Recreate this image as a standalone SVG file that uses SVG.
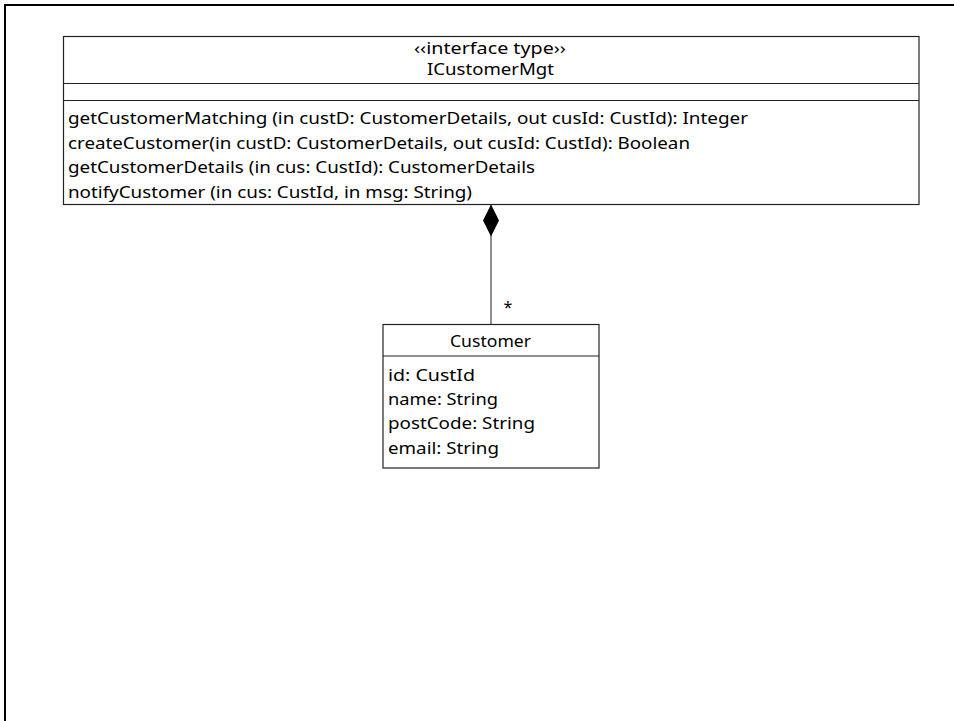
<svg xmlns="http://www.w3.org/2000/svg" width="954" height="721" viewBox="0 0 954 721">
  <style>
    .frame { fill: none; stroke: #000; stroke-width: 2; }
    .box { fill: #fff; stroke: #222; stroke-width: 1.2; }
    .sep { stroke: #222; stroke-width: 1.2; }
    .conn { stroke: #444; stroke-width: 1.2; fill: none; }
    text { font-family: "Comic Sans MS", "Noto Sans", "DejaVu Sans", sans-serif; font-size: 16px; fill: #000; }
    .mid { text-anchor: middle; }
  </style>
  <defs>
    <marker id="composition" viewBox="0 0 32 16" refX="0" refY="8" markerWidth="32" markerHeight="16" markerUnits="userSpaceOnUse" orient="auto">
      <path d="M0,8 L16,0 L32,8 L16,16 Z" fill="#000"/>
    </marker>
  </defs>
  <rect width="954" height="721" fill="#fff"/>
  <!-- page frame -->
  <path class="frame" d="M5,721 L5,5 L954,5"/>

  <!-- connectors -->
  <g id="connectors">
    <line class="conn" x1="491" y1="204.5" x2="491" y2="324" marker-start="url(#composition)"/>
    <text x="508" y="313" class="mid">*</text>
  </g>

  <!-- interface ICustomerMgt -->
  <g id="ICustomerMgt">
    <rect class="box" x="63.5" y="36.5" width="855.5" height="168"/>
    <line class="sep" x1="63.5" y1="83.5" x2="919" y2="83.5"/>
    <line class="sep" x1="63.5" y1="100.5" x2="919" y2="100.5"/>
    <text x="414" y="54" textLength="152" lengthAdjust="spacingAndGlyphs">‹‹interface type››</text>
    <text x="427" y="75" textLength="127" lengthAdjust="spacingAndGlyphs">ICustomerMgt</text>
    <text x="68" y="124" textLength="680" lengthAdjust="spacingAndGlyphs">getCustomerMatching (in custD: CustomerDetails, out cusId: CustId): Integer</text>
    <text x="68" y="149" textLength="622" lengthAdjust="spacingAndGlyphs">createCustomer(in custD: CustomerDetails, out cusId: CustId): Boolean</text>
    <text x="68" y="173" textLength="467" lengthAdjust="spacingAndGlyphs">getCustomerDetails (in cus: CustId): CustomerDetails</text>
    <text x="68" y="198" textLength="404" lengthAdjust="spacingAndGlyphs">notifyCustomer (in cus: CustId, in msg: String)</text>
  </g>

  <!-- class Customer -->
  <g id="Customer">
    <rect class="box" x="383" y="324.5" width="216" height="143.5"/>
    <line class="sep" x1="383" y1="356" x2="599" y2="356"/>
    <text x="450" y="347" textLength="81" lengthAdjust="spacingAndGlyphs">Customer</text>
    <text x="388" y="381" textLength="87" lengthAdjust="spacingAndGlyphs">id: CustId</text>
    <text x="388" y="405" textLength="110" lengthAdjust="spacingAndGlyphs">name: String</text>
    <text x="388" y="429" textLength="147" lengthAdjust="spacingAndGlyphs">postCode: String</text>
    <text x="388" y="454" textLength="111" lengthAdjust="spacingAndGlyphs">email: String</text>
  </g>
</svg>
